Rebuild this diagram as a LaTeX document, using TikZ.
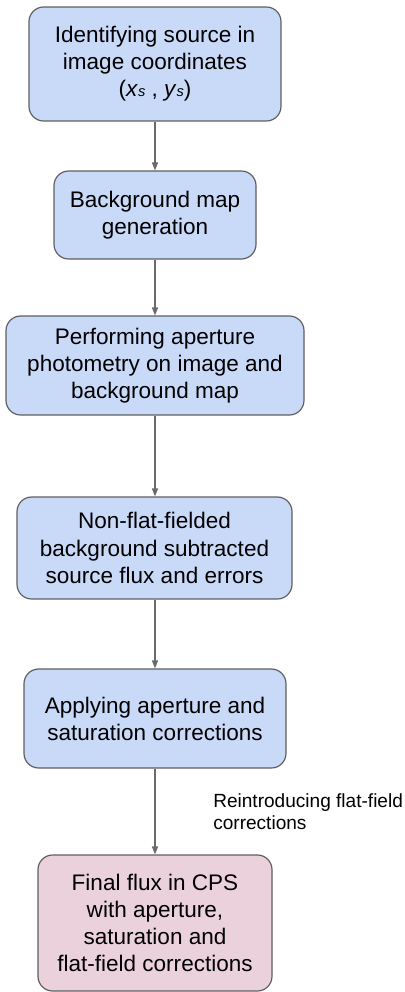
\documentclass[tikz,border=0pt]{standalone}
\usepackage{fontspec}
\setmainfont{Liberation Sans}
\usetikzlibrary{arrows.meta}
\definecolor{boxblue}{HTML}{C9DAF8}
\definecolor{boxpink}{HTML}{EAD1DC}
\definecolor{edgegray}{HTML}{5F5F5F}
\definecolor{linegray}{HTML}{6A6A6A}
\tikzset{
  stepbox/.style={draw=edgegray, line width=0.9pt, fill=boxblue, rounded corners=11pt,
    align=center, inner sep=0pt, font=\fontsize{16.9}{20.3}\selectfont},
  finalbox/.style={stepbox, fill=boxpink},
  flow/.style={draw=linegray, line width=0.9pt, -{Triangle[length=6pt,width=4.6pt]}},
  note/.style={align=left, inner sep=0pt, anchor=west, font=\fontsize{14.3}{16.5}\selectfont}
}
\begin{document}
\begin{tikzpicture}[x=0.75pt,y=-0.75pt]
\useasboundingbox (0,0) rectangle (404,992);
\node[stepbox, minimum width=189pt, minimum height=85.5pt] (b1) at (155,64)
  {Identifying source in\\ image coordinates\\ (\textit{x}{\fontsize{11}{12}\selectfont\textit{s}} , \textit{y}{\fontsize{11}{12}\selectfont\textit{s}})};
\node[stepbox, minimum width=151.5pt, minimum height=66pt] (b2) at (155,215)
  {Background map\\ generation};
\node[stepbox, minimum width=223.5pt, minimum height=74.25pt] (b3) at (155,365.5)
  {Performing aperture\\ photometry on image and\\ background map};
\node[stepbox, minimum width=206.25pt, minimum height=76.5pt] (b4) at (154.5,548)
  {Non-flat-fielded\\ background subtracted\\ source flux and errors};
\node[stepbox, minimum width=196.5pt, minimum height=74.25pt] (b5) at (155,718.5)
  {Applying aperture and\\ saturation corrections};
\node[finalbox, minimum width=175.5pt, minimum height=102pt] (b6) at (155,923)
  {Final flux in CPS\\ with aperture,\\ saturation and\\ flat-field corrections};
\draw[flow] (b1.south) -- (b2.north);
\draw[flow] (b2.south) -- (b3.north);
\draw[flow] (b3.south) -- (b4.north -| b3.south);
\draw[flow] (b4.south -| b5.north) -- (b5.north);
\draw[flow] (b5.south) -- (b6.north);
\node[note] (lab) at (213,812) {Reintroducing flat-field\\ corrections};
\end{tikzpicture}
\end{document}
